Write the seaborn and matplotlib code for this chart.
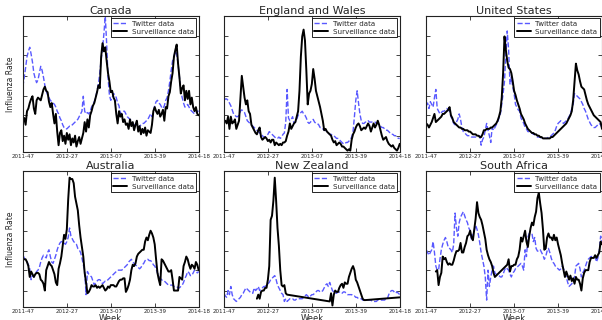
import numpy as np
import pandas as pd
import matplotlib
matplotlib.use("Agg")
import matplotlib.pyplot as plt
import seaborn as sns

# ---------------- data (normalised influenza rate, % of panel height) ----------------
tick_weeks = [0, 32, 64, 96, 128]
tick_labels = ["2011-47", "2012-27", "2013-07", "2013-39", "2014-18"]
countries = ["Canada", "England and Wales", "United States",
             "Australia", "New Zealand", "South Africa"]
NA = None

ca_twitter = [48, 55, 62, 70, 74, 77, 72, 66, 58, 54,
              51, 53, 58, 63, 60, 55, 49, 45, 42, 40,
              38, 37, 36, 35, 33, 30, 28, 25, 23, 20,
              18, 17, 17, 18, 19, 19, 20, 21, 22, 23,
              24, 26, 28, 30, 41, 30, 28, 29, 28, 30,
              33, 35, 37, 40, 45, 50, 58, 68, 76, 87,
              100, 80, 55, 42, 38, 40, 43, 42, 40, 36,
              34, 28, 29, 30, 30, 28, 26, 25, 24, 23,
              21, 20, 19, 18, 18, 19, 20, 21, 21, 22,
              23, 24, 26, 28, 26, 30, 34, 37, 38, 36,
              35, 33, 32, 34, 38, 40, 45, 52, 60, 67,
              70, 74, 72, 65, 55, 45, 40, 36, 33, 34,
              35, 33, 31, 30, 29, 28, 29, 30, 30]
ca_surv = [23, 25, 20, 30, 32, 36, 39, 41, 32, 28,
           38, 40, 39, 38, 42, 46, 48, 45, 44, 37,
           33, 36, 28, 21, 28, 15, 5, 14, 16, 8,
           12, 6, 14, 9, 13, 5, 10, 7, 12, 4,
           8, 11, 6, 10, 14, 22, 15, 24, 18, 27,
           30, 34, 36, 40, 44, 49, 47, 70, 80, 74,
           77, 67, 58, 52, 44, 45, 40, 38, 28, 21,
           30, 26, 28, 22, 24, 20, 21, 17, 24, 19,
           22, 16, 20, 23, 15, 19, 13, 17, 14, 18,
           12, 16, 15, 14, 20, 30, 33, 30, 28, 31,
           26, 28, 31, 23, 33, 32, 41, 44, 52, 58,
           70, 75, 79, 65, 55, 43, 47, 49, 38, 45,
           39, 45, 35, 40, 33, 30, 33, 28, 27]

ew_twitter = [38, 39, 39, 38, 36, 34, 31, 28, 27, 26,
              26, 27, 30, 31, 30, 29, 26, 23, 22, 21,
              20, 19, 18, 17, 16, 15, 14, 13, 12, 11,
              11, 12, 13, 15, 14, 13, 12, 11, 10, 10,
              11, 10, 11, 13, 14, 22, 46, 25, 23, 24,
              26, 21, 22, 24, 27, 28, 29, 30, 28, 27,
              25, 22, 21, 22, 23, 24, 22, 21, 21, 20,
              18, 18, 17, 16, 16, 15, 14, 13, 13, 12,
              12, 11, 10, 10, 9, 8, 7, 6, 6, 7,
              7, 8, 9, 11, 15, 26, 38, 45, 36, 28,
              23, 21, 21, 22, 22, 23, 22, 22, 22, 22,
              22, 21, 21, 20, 19, 18, 18, 17, 16, 16,
              15, 14, 13, 13, 12, 12, 11, 10, 10]
ew_surv = [22, 23, 21, 26, 17, 26, 21, 22, 24, 17,
           20, 23, 40, 56, 48, 40, 35, 38, 30, 28,
           20, 18, 16, 14, 13, 16, 18, 11, 9, 10,
           11, 10, 8, 9, 7, 9, 9, 5, 7, 6,
           5, 6, 5, 7, 7, 8, 12, 15, 21, 17,
           19, 21, 22, 26, 30, 45, 70, 85, 90, 82,
           60, 35, 43, 45, 50, 61, 54, 45, 41, 37,
           33, 28, 23, 16, 17, 15, 14, 13, 12, 9,
           7, 8, 5, 6, 7, 6, 4, 4, 3, 2,
           1, 2, 1, 9, 13, 15, 18, 20, 21, 19,
           16, 17, 18, 17, 19, 21, 19, 15, 18, 21,
           18, 20, 23, 20, 16, 12, 9, 10, 11, 8,
           6, 5, 4, 5, 3, 2, 1, 3, 6]

us_twitter = [34, 36, 32, 37, 35, 33, 40, 46, 32, 30,
              28, 29, 30, 30, 31, 32, 31, 30, 26, 24,
              21, 20, 22, 24, 28, 24, 18, 15, 14, 13,
              12, 12, 12, 11, 11, 11, 11, 11, 12, 12,
              5, 9, 11, 16, 21, 16, 12, 7, 18, 16,
              18, 20, 22, 25, 28, 35, 43, 52, 72, 89,
              75, 50, 55, 48, 43, 35, 33, 31, 30, 25,
              23, 21, 18, 17, 15, 15, 14, 14, 13, 13,
              12, 11, 11, 11, 10, 10, 10, 10, 10, 11,
              11, 12, 13, 14, 16, 19, 21, 22, 23, 22,
              21, 22, 23, 24, 26, 28, 32, 35, 43, 42,
              41, 40, 39, 37, 35, 32, 30, 27, 24, 22,
              20, 19, 18, 18, 19, 20, 21, 20, 18]
us_surv = [21, 20, 18, 20, 22, 25, 28, 22, 23, 24,
           25, 26, 28, 28, 29, 30, 31, 33, 27, 25,
           22, 21, 20, 19, 18, 18, 17, 17, 16, 16,
           16, 15, 15, 14, 13, 13, 13, 12, 12, 11,
           11, 13, 16, 16, 17, 17, 17, 18, 18, 19,
           20, 21, 23, 26, 30, 40, 58, 85, 75, 67,
           62, 61, 58, 52, 45, 42, 38, 35, 32, 28,
           26, 24, 21, 19, 17, 16, 15, 14, 14, 13,
           13, 12, 12, 11, 11, 10, 10, 10, 10, 10,
           10, 11, 11, 12, 13, 14, 15, 16, 17, 18,
           19, 20, 21, 23, 25, 27, 30, 38, 52, 65,
           60, 57, 52, 48, 47, 46, 42, 38, 35, 33,
           31, 29, 27, 26, 25, 24, 23, 22, 17]

au_twitter = [38, 36, 34, 33, 31, 28, 20, 23, 22, 24,
              26, 27, 29, 33, 36, 38, 37, 36, 40, 42,
              37, 33, 32, 35, 38, 42, 45, 47, 48, 48,
              47, 46, 48, 51, 58, 52, 50, 48, 47, 46,
              43, 42, 40, 36, 31, 27, 9, 26, 24, 23,
              22, 19, 16, 18, 19, 20, 20, 19, 17, 18,
              19, 19, 20, 21, 22, 23, 24, 25, 26, 27,
              27, 27, 27, 28, 29, 30, 31, 33, 34, 35,
              33, 32, 31, 30, 29, 28, 29, 31, 32, 34,
              35, 35, 34, 34, 33, 31, 30, 28, 25, 23,
              21, 20, 19, 19, 18, 17, 16, 16, 16, 16,
              15, 15, 15, 14, 14, 15, 16, 18, 21, 23,
              26, 25, 23, 23, 25, 27, 26, 25, 26]
au_surv = [35, 35, 35, 33, 30, 22, 26, 24, 22, 24,
           25, 25, 24, 20, 19, 17, 12, 27, 30, 33,
           31, 30, 27, 24, 18, 16, 28, 32, 37, 45,
           53, 50, 57, 79, 95, 94, 94, 91, 81, 76,
           71, 60, 51, 44, 37, 25, 18, 10, 11, 13,
           16, 15, 15, 16, 14, 15, 14, 15, 16, 14,
           12, 13, 15, 14, 16, 16, 16, 15, 15, 17,
           19, 20, 20, 21, 21, 11, 13, 16, 20, 27,
           31, 30, 32, 37, 39, 40, 41, 42, 42, 48,
           51, 49, 53, 56, 54, 51, 46, 35, 25, 20,
           16, 35, 34, 32, 30, 28, 26, 26, 27, 20,
           12, 12, 12, 12, 22, 21, 20, 30, 33, 37,
           35, 31, 28, 31, 30, 28, 33, 31, 27]

nz_twitter = [10, 8, 7, 12, 9, 15, 9, 6, 5, 4,
              5, 6, 7, 9, 10, 12, 14, 13, 12, 11,
              10, 10, 14, 12, 13, 15, 12, 13, 14, 15,
              15, 16, 17, 18, 20, 21, 22, 23, 20, 16,
              14, 12, 10, 9, 4, 6, 4, 5, 6, 6,
              6, 5, 5, 6, 6, 6, 6, 6, 7, 8,
              9, 8, 7, 8, 9, 9, 10, 11, 12, 12,
              11, 11, 12, 14, 16, 17, 15, 18, 15, 12,
              11, 10, 10, 11, 11, 10, 10, 11, 11, 10,
              9, 9, 9, 9, 8, 8, 7, 7, 6, 6,
              6, 5, 5, 5, 5, 5, 5, 5, 4, 4,
              4, 4, 5, 5, 5, 5, 5, 5, 6, 6,
              9, 11, 12, 12, 11, 10, 11, 10, 9]
nz_surv = [NA, NA, NA, NA, NA, NA, NA, NA, NA, NA,
           NA, NA, NA, NA, NA, NA, NA, NA, NA, NA,
           NA, NA, NA, NA, 6, 9, 6, 11, 12, 12,
           14, 14, 20, 30, 64, 67, 78, 95, 78, 58,
           45, 27, 16, 15, 16, 10, 9, NA, NA, NA,
           NA, NA, NA, NA, NA, NA, NA, NA, NA, NA,
           NA, NA, NA, NA, NA, NA, NA, NA, NA, NA,
           NA, NA, NA, NA, NA, NA, NA, 4, 10, 1,
           9, 12, 11, 11, 14, 16, 17, 14, 18, 17,
           17, 22, 25, 28, 30, 27, 20, 18, 15, 12,
           9, 6, 5, 5, NA, NA, NA, NA, NA, NA,
           NA, NA, NA, NA, NA, NA, NA, NA, NA, NA,
           NA, NA, NA, NA, NA, NA, NA, NA, 7]

za_twitter = [42, 40, 38, 40, 42, 48, 40, 30, 27, 27,
              35, 42, 46, 49, 51, 48, 44, 43, 42, 40,
              46, 69, 58, 52, 62, 66, 68, 70, 67, 64,
              62, 58, 56, 49, 53, 56, 60, 57, 53, 47,
              40, 35, 30, 22, 5, 27, 15, 22, 27, 30,
              25, 24, 23, 23, 22, 22, 24, 27, 29, 28,
              27, 24, 22, 25, 26, 28, 29, 30, 31, 32,
              30, 27, 42, 37, 51, 54, 54, 54, 48, 51,
              43, 41, 41, 42, 40, 38, 35, 37, 41, 43,
              40, 36, 33, 32, 30, 29, 28, 27, 28, 30,
              28, 25, 22, 18, 15, 16, 17, 20, 22, 30,
              31, 32, 28, 22, 25, 27, 30, 33, 35, 36,
              37, 37, 37, 37, 33, 36, 41, 52, 48]
za_surv = [NA, NA, NA, NA, NA, NA, NA, 26, 27, 16,
           22, 25, 37, 35, 36, 33, 31, 32, 31, 31,
           34, 38, 41, 41, 42, 47, 40, 40, 44, 47,
           52, 53, 56, 51, 49, 57, 65, 77, 69, 66,
           64, 60, 55, 50, 42, 38, 35, 33, 30, 25,
           22, NA, NA, NA, NA, NA, NA, NA, NA, 31,
           35, 26, 30, 30, 31, 31, 35, 37, 42, 51,
           48, 52, 56, 48, 44, 52, 58, 62, 60, 66,
           70, 80, 84, 76, 69, 57, 42, 43, 51, 54,
           51, 51, 49, 53, 49, 51, 46, 42, 38, 32,
           27, 22, 26, 23, 20, 23, 19, 21, 17, 22,
           20, 20, 17, 12, 21, 25, 27, 27, 27, 33,
           36, 36, 36, 38, 36, 38, 40, 48, 46]

twitter_series = [ca_twitter, ew_twitter, us_twitter, au_twitter, nz_twitter, za_twitter]
surv_series = [ca_surv, ew_surv, us_surv, au_surv, nz_surv, za_surv]

# ---------------- style ----------------
sns.set_style("white")
plt.rcParams.update({
    "font.family": ["DejaVu Sans"],
    "xtick.direction": "in", "ytick.direction": "in",
    "xtick.top": True, "ytick.right": True,
    "xtick.bottom": True, "ytick.left": True,
    "xtick.major.size": 3, "ytick.major.size": 3,
    "xtick.major.width": 0.6, "ytick.major.width": 0.6,
    "axes.edgecolor": "#222222", "axes.linewidth": 0.8,
})

fig = plt.figure(figsize=(6.02, 3.2), dpi=100)
lefts = [0.038, 0.372, 0.708]
bottoms = [0.525, 0.041]
w, h = 0.292, 0.425

weeks = np.arange(129)
for i, name in enumerate(countries):
    r, c = divmod(i, 3)
    ax = fig.add_axes([lefts[c], bottoms[r], w, h])
    tw = pd.DataFrame({"week": weeks, "rate": pd.array(twitter_series[i], dtype="Float64")}).dropna()
    sv = pd.DataFrame({"week": weeks, "rate": pd.array(surv_series[i], dtype="Float64")}).dropna()
    tw["rate"] = tw["rate"].astype(float)
    sv["rate"] = sv["rate"].astype(float)
    sns.lineplot(data=tw, x="week", y="rate", ax=ax, color=(0.35, 0.35, 1.0),
                 linestyle="--", linewidth=1.0, label="Twitter data")
    sns.lineplot(data=sv, x="week", y="rate", ax=ax, color="black",
                 linewidth=1.4, label="Surveillance data")
    ax.set_xlim(0, 128)
    ax.set_ylim(0, 100)
    ax.set_xticks(tick_weeks)
    ax.set_xticklabels(tick_labels, fontsize=4)
    ax.tick_params(axis="x", pad=1.5)
    ax.set_yticks([12, 27, 41, 56, 71, 85])
    ax.set_yticklabels([])
    for s in ax.spines.values():
        s.set_visible(True)
    ax.set_title(name, fontsize=8, pad=1.5)
    ax.set_xlabel("Week" if r == 1 else "", fontsize=6, labelpad=0)
    ax.set_ylabel("Influenza Rate" if c == 0 else "", fontsize=5.5, labelpad=2)
    leg = ax.legend(loc="upper right", fontsize=5.1, frameon=True, fancybox=False,
                    framealpha=1, edgecolor="black", borderpad=0.35,
                    labelspacing=0.25, handlelength=2.0, handletextpad=0.6,
                    borderaxespad=0.35)
    leg.get_frame().set_linewidth(0.6)

fig.savefig("out.png", dpi=100)
